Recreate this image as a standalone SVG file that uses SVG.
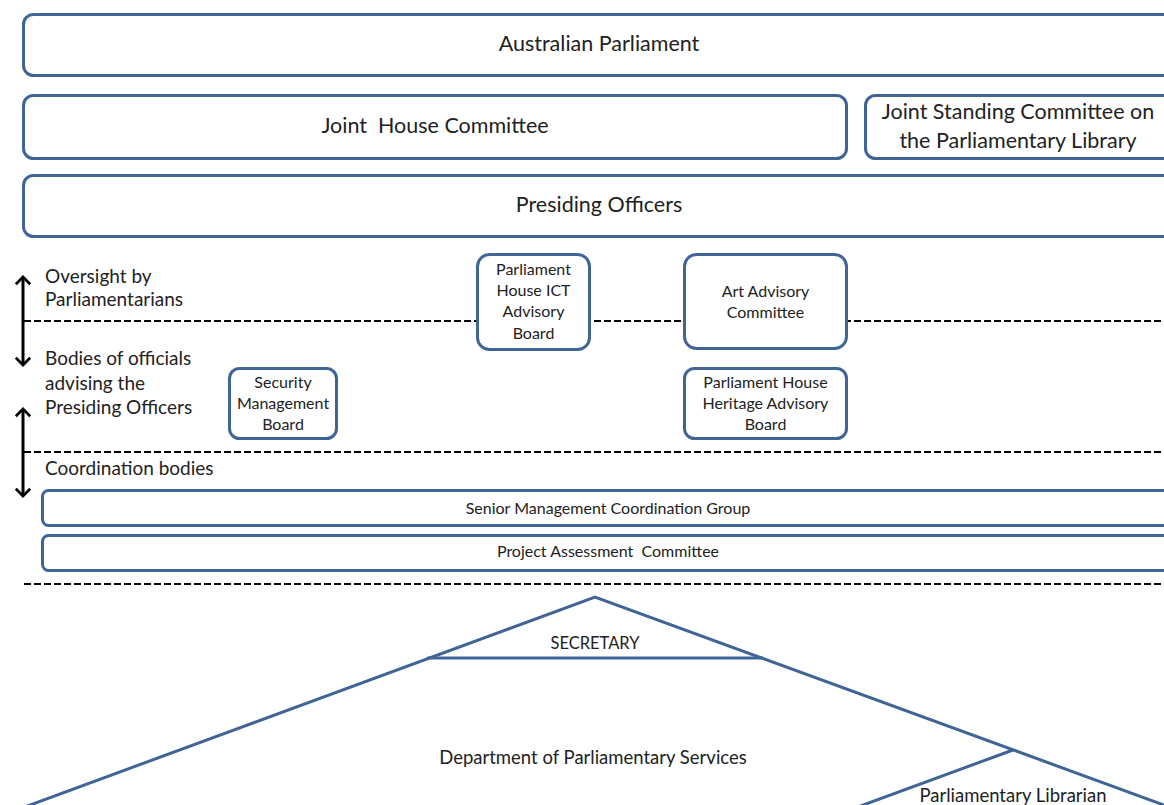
<svg xmlns="http://www.w3.org/2000/svg" width="1164" height="805" viewBox="0 0 1164 805">
<style>
.box{fill:#fff;stroke:#3F6496;stroke-width:3}
.ln{fill:none;stroke:#3F6496;stroke-width:3}
.dash{stroke:#000;stroke-width:2.2;stroke-dasharray:7,3;fill:none}
.arr{stroke:#000;stroke-width:3;fill:none}
text{font-family:Lato,"Liberation Sans",sans-serif;fill:#222}
.big{font-size:21.5px;text-anchor:middle}
.lab{font-size:19px}
.sm{font-size:16px;text-anchor:middle}
.co{font-size:16px;text-anchor:middle}
.mid{font-size:18.5px;text-anchor:middle}
</style>
<defs>
<marker id="ch" viewBox="0 0 20 20" refX="10" refY="10" markerWidth="18" markerHeight="18" markerUnits="userSpaceOnUse" orient="auto-start-reverse">
<path d="M2,2 L10,10 L2,18" fill="none" stroke="#000" stroke-width="3"/>
</marker>
</defs>
<g id="connectors">
<line class="dash" x1="24" y1="321" x2="1164" y2="321"/>
<line class="dash" x1="24" y1="452" x2="1164" y2="452"/>
<line class="dash" x1="24" y1="584" x2="1164" y2="584"/>
<line class="arr" x1="23" y1="277" x2="23" y2="365" marker-start="url(#ch)" marker-end="url(#ch)"/>
<line class="arr" x1="23" y1="409" x2="23" y2="496" marker-start="url(#ch)" marker-end="url(#ch)"/>
</g>
<g id="australian-parliament"><rect class="box" x="23.5" y="14.5" width="1160" height="61" rx="10"/><text class="big" x="599" y="51">Australian Parliament</text></g>
<g id="joint-house-committee"><rect class="box" x="23.5" y="95.5" width="823" height="63" rx="10"/><text class="big" x="435" y="133" xml:space="preserve">Joint  House Committee</text></g>
<g id="joint-standing-committee"><rect class="box" x="865.5" y="95.5" width="320" height="63" rx="10"/><text class="big" x="1018" y="119">Joint Standing Committee on</text><text class="big" x="1018" y="148">the Parliamentary Library</text></g>
<g id="presiding-officers"><rect class="box" x="23.5" y="175.5" width="1160" height="61" rx="10"/><text class="big" x="599" y="212">Presiding Officers</text></g>
<g id="labels">
<text class="lab" x="45" y="283">Oversight by</text>
<text class="lab" x="45" y="306">Parliamentarians</text>
<text class="lab" x="45" y="365">Bodies of officials</text>
<text class="lab" x="45" y="390">advising the</text>
<text class="lab" x="45" y="414">Presiding Officers</text>
<text class="lab" x="45" y="475">Coordination bodies</text>
</g>
<g id="ict-board"><rect class="box" x="477.5" y="254.5" width="112" height="95" rx="12"/><text class="sm" x="533.5" y="275">Parliament</text><text class="sm" x="533.5" y="296">House ICT</text><text class="sm" x="533.5" y="317">Advisory</text><text class="sm" x="533.5" y="339">Board</text></g>
<g id="art-advisory"><rect class="box" x="684.5" y="254.5" width="162" height="94" rx="12"/><text class="sm" x="765.5" y="297">Art Advisory</text><text class="sm" x="765.5" y="318">Committee</text></g>
<g id="security-board"><rect class="box" x="229.5" y="368.5" width="107" height="70" rx="10"/><text class="sm" x="283" y="388">Security</text><text class="sm" x="283" y="409">Management</text><text class="sm" x="283" y="430">Board</text></g>
<g id="heritage-board"><rect class="box" x="684.5" y="368.5" width="162" height="70" rx="10"/><text class="sm" x="765.5" y="388">Parliament House</text><text class="sm" x="765.5" y="409">Heritage Advisory</text><text class="sm" x="765.5" y="430">Board</text></g>
<g id="senior-management"><rect class="box" x="42.5" y="490.5" width="1140" height="35" rx="6"/><text class="co" x="608" y="514">Senior Management Coordination Group</text></g>
<g id="project-assessment"><rect class="box" x="42.5" y="535.5" width="1140" height="35" rx="6"/><text class="co" x="608" y="557" xml:space="preserve">Project Assessment  Committee</text></g>
<g id="department">
<path class="ln" d="M22,808 L595,597 L1172,808"/>
<line class="ln" x1="427" y1="658" x2="763" y2="658"/>
<line class="ln" x1="1013" y1="750" x2="855" y2="808"/>
<text class="mid" x="595" y="649" style="font-size:16.5px">SECRETARY</text>
<text class="mid" x="593" y="764">Department of Parliamentary Services</text>
<text class="mid" x="1013" y="802">Parliamentary Librarian</text>
</g>
</svg>
